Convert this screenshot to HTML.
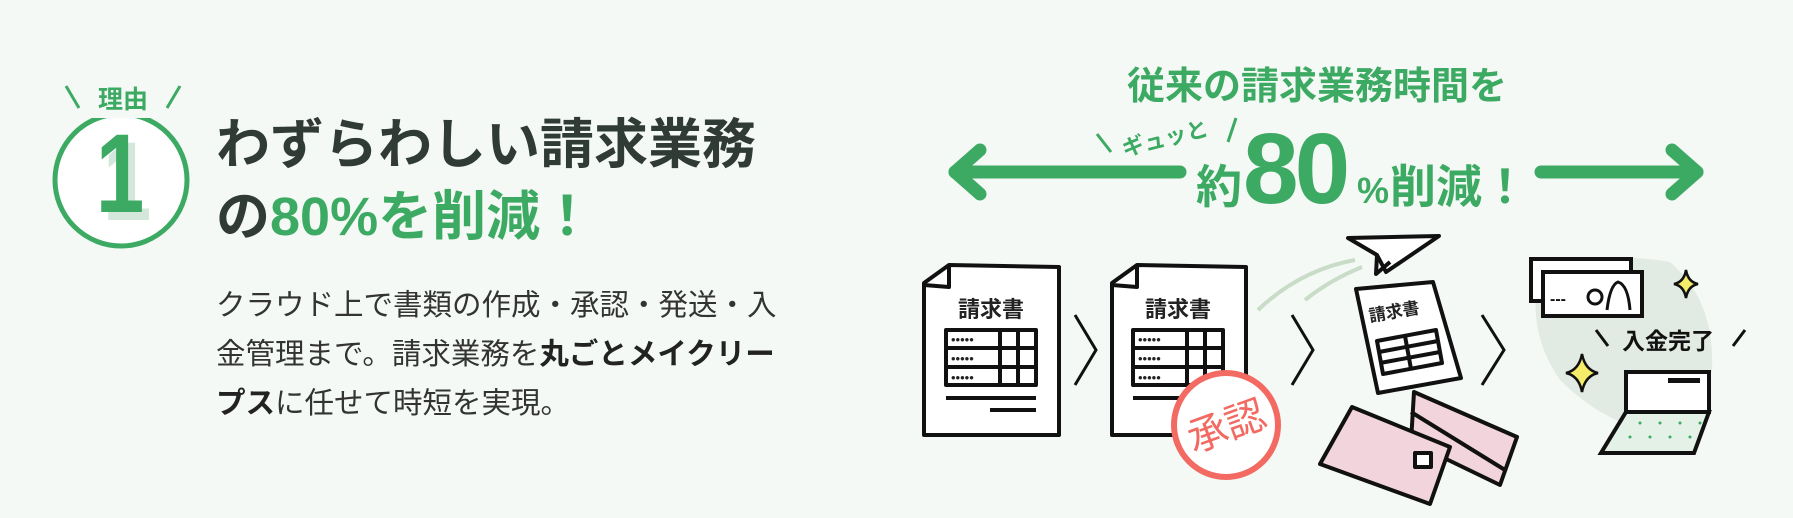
<!DOCTYPE html>
<html><head><meta charset="utf-8"><style>
html,body{margin:0;padding:0;}
body{width:1793px;height:518px;background:#f5f9f5;position:relative;overflow:hidden;font-family:"Liberation Sans","Noto Sans CJK JP",sans-serif;}
.h{position:absolute;left:216px;font-size:54px;font-weight:bold;color:#2f3b34;white-space:nowrap;}
.g{color:#3daa64;}
.b{position:absolute;left:216px;font-size:29.5px;color:#333;white-space:nowrap;line-height:49px;top:281px;}
.b b{color:#222;}
</style></head><body>
<svg width="1793" height="518" style="position:absolute;left:0;top:0" font-family="Liberation Sans, Noto Sans CJK JP, sans-serif">
  <circle cx="121" cy="180" r="66" fill="#fff" stroke="#3daa64" stroke-width="5"/>
  <rect x="80" y="90" width="85" height="28" fill="#f5f9f5"/>
  <line x1="66" y1="86" x2="79" y2="108" stroke="#3daa64" stroke-width="3"/>
  <line x1="180" y1="86" x2="167" y2="108" stroke="#3daa64" stroke-width="3"/>
  <text x="123" y="108" font-size="25" font-weight="bold" fill="#3daa64" text-anchor="middle">理由</text>
  <g transform="translate(127 0) scale(0.78 1)"><text x="0" y="220" font-size="112" font-weight="bold" fill="#d3e8da" text-anchor="middle">1</text></g>
  <g transform="translate(120 0) scale(0.78 1)"><text x="0" y="212" font-size="112" font-weight="bold" fill="#3daa64" text-anchor="middle">1</text></g>

  <text x="1317" y="99" font-size="38" font-weight="bold" fill="#3daa64" text-anchor="middle">従来の請求業務時間を</text>
  <g stroke="#3daa64" stroke-width="13" fill="none" stroke-linecap="round" stroke-linejoin="round">
    <line x1="955" y1="172" x2="1180" y2="172"/>
    <polyline points="980,150 955,172 980,194"/>
    <line x1="1541" y1="172" x2="1697" y2="172"/>
    <polyline points="1672,150 1697,172 1672,194"/>
  </g>
  <text x="1196" y="203" font-size="46" font-weight="bold" fill="#3daa64">約</text>
  <text x="1243" y="203" font-size="100" font-weight="bold" fill="#3daa64" letter-spacing="-4">80</text>
  <text x="1357" y="203" font-size="36" font-weight="bold" fill="#3daa64">%</text>
  <text x="1390" y="203" font-size="46" font-weight="bold" fill="#3daa64">削減！</text>
  <g transform="rotate(-14 1165 138)">
    <text x="1165" y="146" font-size="22" font-weight="bold" fill="#3daa64" text-anchor="middle">ギュッと</text>
  </g>
  <line x1="1097" y1="134" x2="1111" y2="152" stroke="#3daa64" stroke-width="3"/>
  <line x1="1236" y1="118" x2="1228" y2="142" stroke="#3daa64" stroke-width="3"/>

  <g stroke="#111" stroke-width="4" fill="#fff" stroke-linejoin="round">
    <path d="M949,265 L1059,267 L1059,435 L924,435 L924,283 Z"/>
    <path d="M949,265 L949,287 L924,285" fill="none"/>
    <rect x="946" y="330" width="90" height="55"/>
    <line x1="946" y1="348" x2="1036" y2="348"/><line x1="946" y1="367" x2="1036" y2="367"/>
    <line x1="1000" y1="330" x2="1000" y2="385"/><line x1="1018" y1="330" x2="1018" y2="385"/>
    <line x1="946" y1="398" x2="1036" y2="398"/><line x1="990" y1="410" x2="1036" y2="410"/>
  </g>
  <text x="991" y="317" font-size="22" font-weight="bold" fill="#222" text-anchor="middle">請求書</text>
  <g fill="#222" font-size="13"><text x="951" y="344">•••••</text><text x="951" y="363">•••••</text><text x="951" y="382">•••••</text></g>

  <g stroke="#111" stroke-width="4" fill="#fff" stroke-linejoin="round">
    <path d="M1137,265 L1246,267 L1246,435 L1112,435 L1112,283 Z"/>
    <path d="M1137,265 L1137,287 L1112,285" fill="none"/>
    <rect x="1133" y="330" width="90" height="55"/>
    <line x1="1133" y1="348" x2="1223" y2="348"/><line x1="1133" y1="367" x2="1223" y2="367"/>
    <line x1="1187" y1="330" x2="1187" y2="385"/><line x1="1205" y1="330" x2="1205" y2="385"/>
    <line x1="1133" y1="398" x2="1223" y2="398"/>
  </g>
  <text x="1178" y="317" font-size="22" font-weight="bold" fill="#222" text-anchor="middle">請求書</text>
  <g fill="#222" font-size="13"><text x="1138" y="344">•••••</text><text x="1138" y="363">•••••</text><text x="1138" y="382">•••••</text></g>
  <circle cx="1226" cy="425" r="52" fill="#fff" stroke="#f26a62" stroke-width="6"/>
  <g transform="rotate(-20 1226 425)"><text x="1226" y="440" font-size="40" fill="#f26a62" text-anchor="middle">承認</text></g>

  <g stroke="#111" stroke-width="3" fill="none">
    <polyline points="1075,315 1096,350 1075,385"/>
    <polyline points="1292,315 1313,350 1292,385"/>
    <polyline points="1482,315 1504,350 1482,385"/>
  </g>

  <path d="M1258,310 Q1300,270 1355,260" stroke="#c8dcc8" stroke-width="4" fill="none"/>
  <path d="M1305,300 Q1330,280 1362,267" stroke="#c8dcc8" stroke-width="4" fill="none"/>
  <g stroke="#111" stroke-width="4" fill="#fff" stroke-linejoin="round">
    <path d="M1348,238 L1439,236 L1386,272 L1377,255 Z"/>
    <path d="M1377,255 L1376,274 L1390,262" fill="none"/>
    <path d="M1356,289 L1433,282 L1461,378 L1378,393 Z"/>
    <path d="M1377,341 L1436,330 L1442,363 L1383,374 Z"/>
    <line x1="1379" y1="352" x2="1438" y2="341"/><line x1="1380" y1="363" x2="1440" y2="352"/>
    <line x1="1405" y1="336" x2="1411" y2="369"/>
    <path d="M1414,392 L1517,437 L1500,485 L1411,442 Z" fill="#f2d5dc"/>
    <path d="M1411,412 L1505,470" fill="none"/>
    <path d="M1352,407 L1450,447 L1430,504 L1320,464 Z" fill="#f2d5dc"/>
    <rect x="1415" y="453" width="16" height="14" fill="#fff"/>
  </g>
  <text x="1370" y="322" font-size="17" font-weight="bold" fill="#222" transform="rotate(-10 1370 322)">請求書</text>

  <path d="M1540,270 Q1600,250 1670,262 Q1715,300 1712,370 Q1700,440 1650,432 Q1600,420 1560,380 Q1525,330 1540,270 Z" fill="#e2ebe3"/>
  <g stroke="#111" stroke-width="4" fill="#fff">
    <rect x="1531" y="259" width="100" height="42"/>
    <rect x="1543" y="272" width="99" height="44"/>
    <rect x="1626" y="372" width="83" height="40"/>
    <path d="M1626,412 L1709,412 L1694,453 L1601,453 Z" fill="#e4f1e6"/>
  </g>
  <text x="1550" y="304" font-size="16" font-weight="bold" fill="#111">---</text>
  <circle cx="1595" cy="297" r="7" fill="none" stroke="#111" stroke-width="3"/>
  <path d="M1607,310 Q1610,285 1618,282 Q1628,285 1630,310" fill="none" stroke="#111" stroke-width="3"/>
  <rect x="1668" y="378" width="32" height="5" fill="#111"/>
  <g fill="#3daa64"><circle cx="1640" cy="423" r="1.5"/><circle cx="1660" cy="423" r="1.5"/><circle cx="1680" cy="423" r="1.5"/><circle cx="1700" cy="423" r="1.5"/><circle cx="1630" cy="437" r="1.5"/><circle cx="1650" cy="437" r="1.5"/><circle cx="1670" cy="437" r="1.5"/><circle cx="1690" cy="437" r="1.5"/></g>
  <path d="M1686,270 Q1688,282 1698,284 Q1688,286 1686,298 Q1684,286 1674,284 Q1684,282 1686,270 Z" fill="#f5ec6a" stroke="#111" stroke-width="2.5"/>
  <path d="M1582,354 Q1585,370 1598,373 Q1585,376 1582,392 Q1579,376 1566,373 Q1579,370 1582,354 Z" fill="#f5ec6a" stroke="#111" stroke-width="2.5"/>
  <text x="1668" y="349" font-size="23" font-weight="bold" fill="#111" text-anchor="middle">入金完了</text>
  <line x1="1596" y1="330" x2="1608" y2="346" stroke="#111" stroke-width="3"/>
  <line x1="1745" y1="330" x2="1733" y2="346" stroke="#111" stroke-width="3"/>
</svg>
<div class="h" style="top:100px;">わずらわしい請求業務</div>
<div class="h" style="top:172px;">の<span class="g">80%を削減！</span></div>
<div class="b">クラウド上で書類の作成・承認・発送・入<br>金管理まで。請求業務を<b>丸ごとメイクリー</b><br><b>プス</b>に任せて時短を実現。</div>
</body></html>
